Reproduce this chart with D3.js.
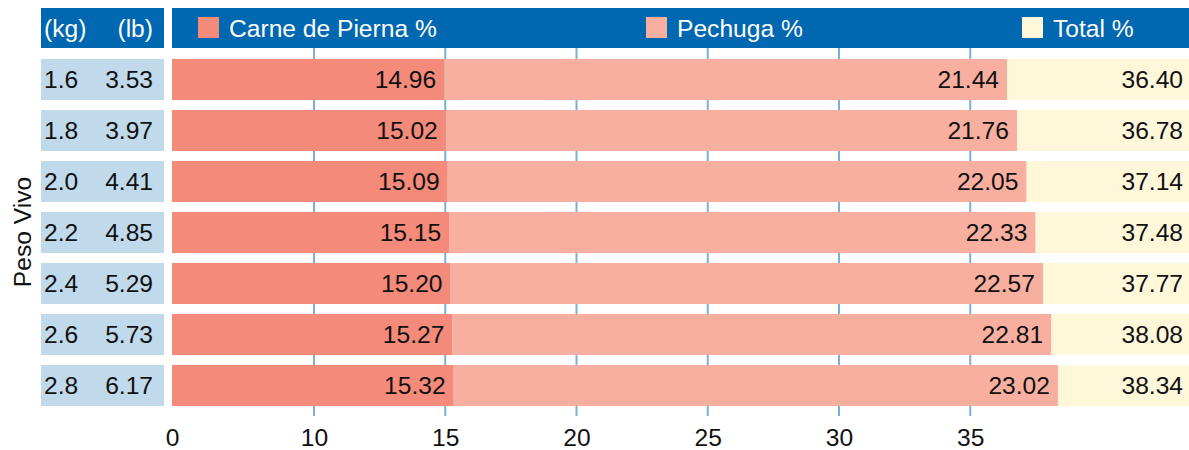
<!DOCTYPE html>
<html>
<head>
<meta charset="utf-8">
<script src="https://cdn.jsdelivr.net/npm/d3@7"></script>
<style>
  body { margin: 0; background: #fff; }
  svg text { font-family: "Liberation Sans", Arial, Helvetica, sans-serif; }
</style>
</head>
<body>
<svg id="chart" width="1189" height="450"></svg>
<script>
const kg = ["1.6", "1.8", "2.0", "2.2", "2.4", "2.6", "2.8"];
const lb = ["3.53", "3.97", "4.41", "4.85", "5.29", "5.73", "6.17"];
const pierna = [14.96, 15.02, 15.09, 15.15, 15.20, 15.27, 15.32];
const pechuga = [21.44, 21.76, 22.05, 22.33, 22.57, 22.81, 23.02];
const total = [36.40, 36.78, 37.14, 37.48, 37.77, 38.08, 38.34];
const tickLabels = [0, 10, 15, 20, 25, 30, 35];
const gridTicks = [10, 15, 20, 25, 30, 35];
const seriesNames = ["Carne de Pierna %", "Pechuga %", "Total %"];

const colors = { pierna: "#f48a7a", pechuga: "#f8afa0", total: "#fff7da" };
const headerBlue = "#0067b1";
const panelBlue = "#c0daec";
const gridBlue = "#78b0da";
const fs = 24.6;

const svg = d3.select("#chart");
const W = 1189;
const plotLeft = 172;

const rows = kg.map((k, i) => ({ kg: k, lb: lb[i], pierna: pierna[i], pechuga: pechuga[i], total: total[i] }));

// Scales (the axis is broken between 0 and 10)
const x = d3.scaleLinear().domain([0, 10, 40]).range([plotLeft, 314, 314 + 30 * 26.25]);
const y = d3.scaleBand().domain(kg).range([59, 406]).paddingInner(10 / 51).paddingOuter(0);

// Grid lines behind bars
svg.append("g")
  .selectAll("line")
  .data(gridTicks)
  .enter()
  .append("line")
  .attr("x1", d => x(d)).attr("x2", d => x(d))
  .attr("y1", 48).attr("y2", 416)
  .attr("stroke", gridBlue)
  .attr("stroke-width", 2);

// Header
svg.append("rect").attr("x", 41).attr("y", 8).attr("width", 123).attr("height", 40).attr("fill", headerBlue);
svg.append("rect").attr("x", plotLeft).attr("y", 8).attr("width", W - plotLeft).attr("height", 40).attr("fill", headerBlue);
svg.append("text").attr("x", 44).attr("y", 37).attr("fill", "#fff").attr("font-size", fs).text("(kg)");
svg.append("text").attr("x", 153).attr("y", 37).attr("fill", "#fff").attr("font-size", fs).attr("text-anchor", "end").text("(lb)");

const legendX = [198, 646, 1022];
const legendColors = [colors.pierna, colors.pechuga, colors.total];
const legend = svg.append("g")
  .selectAll("g")
  .data(seriesNames)
  .enter()
  .append("g")
  .attr("transform", (d, i) => `translate(${legendX[i]},17)`);
legend.append("rect").attr("width", 21).attr("height", 21).attr("fill", (d, i) => legendColors[i]);
legend.append("text").attr("x", 31).attr("y", 20).attr("fill", "#fff").attr("font-size", fs).text(d => d);

// Left panel
const left = svg.append("g")
  .selectAll("g")
  .data(rows)
  .enter()
  .append("g")
  .attr("transform", d => `translate(0,${y(d.kg)})`);
left.append("rect").attr("x", 41).attr("width", 123).attr("height", y.bandwidth()).attr("fill", panelBlue);
left.append("text").attr("x", 44).attr("y", y.bandwidth() / 2 + 8.5).attr("font-size", fs).attr("fill", "#111").text(d => d.kg);
left.append("text").attr("x", 153).attr("y", y.bandwidth() / 2 + 8.5).attr("font-size", fs).attr("fill", "#111")
  .attr("text-anchor", "end").text(d => d.lb);

// Bars
const bars = svg.append("g")
  .selectAll("g")
  .data(rows)
  .enter()
  .append("g")
  .attr("transform", d => `translate(0,${y(d.kg)})`);

bars.append("rect")
  .attr("x", d => x(d.total)).attr("width", d => W - x(d.total))
  .attr("height", y.bandwidth()).attr("fill", colors.total);
bars.append("rect")
  .attr("x", d => x(d.pierna)).attr("width", d => x(d.total) - x(d.pierna))
  .attr("height", y.bandwidth()).attr("fill", colors.pechuga);
bars.append("rect")
  .attr("x", x(0)).attr("width", d => x(d.pierna) - x(0))
  .attr("height", y.bandwidth()).attr("fill", colors.pierna);

const ty = y.bandwidth() / 2 + 8.5;
bars.append("text").attr("x", d => x(d.pierna) - 8).attr("y", ty).attr("text-anchor", "end")
  .attr("font-size", fs).attr("fill", "#111").text(d => d.pierna.toFixed(2));
bars.append("text").attr("x", d => x(d.total) - 8).attr("y", ty).attr("text-anchor", "end")
  .attr("font-size", fs).attr("fill", "#111").text(d => d.pechuga.toFixed(2));
bars.append("text").attr("x", W - 6).attr("y", ty).attr("text-anchor", "end")
  .attr("font-size", fs).attr("fill", "#111").text(d => d.total.toFixed(2));

// X axis
const xAxis = d3.axisBottom(x).tickValues(tickLabels).tickSize(0).tickFormat(d3.format("d"));
const gx = svg.append("g").attr("transform", "translate(0,426)").call(xAxis);
gx.select(".domain").remove();
gx.selectAll("text").attr("font-size", fs).attr("fill", "#111").attr("y", 20).attr("dy", 0)
  .style("font-family", "'Liberation Sans', Arial, sans-serif");

// Y title
svg.append("text")
  .attr("transform", "translate(31,232) rotate(-90)")
  .attr("text-anchor", "middle")
  .attr("font-size", fs)
  .attr("fill", "#111")
  .text("Peso Vivo");
</script>
</body>
</html>
